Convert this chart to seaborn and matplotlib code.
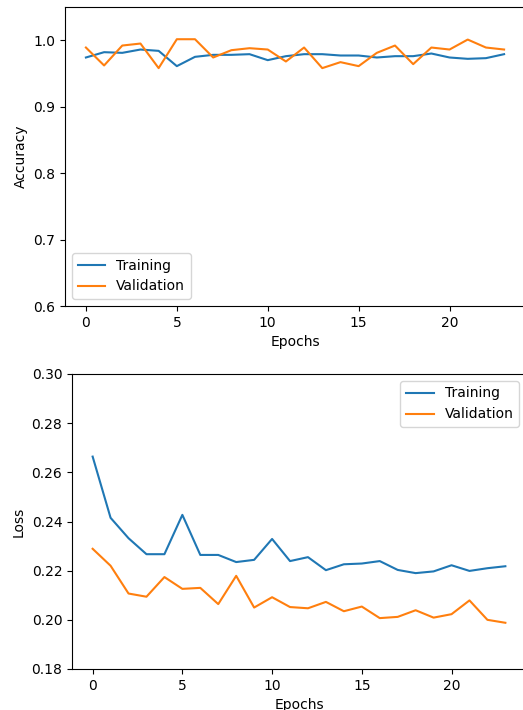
import numpy as np
import pandas as pd
import matplotlib
matplotlib.use("Agg")
import matplotlib.pyplot as plt
import seaborn as sns

epochs = list(range(24))
train_acc = [0.974, 0.982, 0.981, 0.986, 0.984, 0.961, 0.975, 0.978, 0.978, 0.979,
             0.970, 0.976, 0.979, 0.979, 0.977, 0.977, 0.974, 0.976, 0.976, 0.980,
             0.974, 0.972, 0.973, 0.979]
val_acc = [0.989, 0.962, 0.992, 0.995, 0.958, 1.0015, 1.0015, 0.974, 0.985, 0.988,
           0.986, 0.968, 0.989, 0.958, 0.967, 0.961, 0.981, 0.992, 0.964, 0.989,
           0.986, 1.001, 0.989, 0.986]
train_loss = [0.2664, 0.2415, 0.2332, 0.2267, 0.2267, 0.2427, 0.2264, 0.2264, 0.2235, 0.2244,
              0.2329, 0.2239, 0.2255, 0.2202, 0.2226, 0.2229, 0.2239, 0.2203, 0.2190, 0.2197,
              0.2222, 0.2199, 0.2210, 0.2218]
val_loss = [0.2289, 0.2220, 0.2107, 0.2094, 0.2174, 0.2126, 0.2130, 0.2064, 0.2179, 0.2050,
            0.2092, 0.2052, 0.2047, 0.2073, 0.2035, 0.2054, 0.2007, 0.2012, 0.2039, 0.2009,
            0.2023, 0.2079, 0.2000, 0.1988]
series_names = ["Training", "Validation"]
colors = ["#1f77b4", "#ff7f0e"]

acc_df = pd.DataFrame({"Epochs": epochs * 2,
                       "value": train_acc + val_acc,
                       "set": [series_names[0]] * 24 + [series_names[1]] * 24})
loss_df = pd.DataFrame({"Epochs": epochs * 2,
                        "value": train_loss + val_loss,
                        "set": [series_names[0]] * 24 + [series_names[1]] * 24})

W, H = 523, 710
dpi = 100
fig = plt.figure(figsize=(W / dpi, H / dpi), dpi=dpi)
plt.rcParams['font.family'] = ['DejaVu Sans']

def px_axes(left, top, right, bottom):
    return fig.add_axes([left / W, 1 - bottom / H, (right - left) / W, (bottom - top) / H])

ax1 = px_axes(65, 7, 525, 306)
sns.lineplot(data=acc_df, x="Epochs", y="value", hue="set", palette=colors, ax=ax1, linewidth=1.5)
ax1.set_ylim(0.6, 1.05)
ax1.set_xlim(-1.15, 24.15)
ax1.set_xticks([0, 5, 10, 15, 20])
ax1.set_ylabel("Accuracy")
ax1.set_xlabel("Epochs")
ax1.legend(loc="lower left")

ax2 = px_axes(72, 374, 526, 669)
sns.lineplot(data=loss_df, x="Epochs", y="value", hue="set", palette=colors, ax=ax2, linewidth=1.5)
ax2.set_ylim(0.18, 0.30)
ax2.set_xlim(-1.15, 24.15)
ax2.set_xticks([0, 5, 10, 15, 20])
ax2.set_ylabel("Loss")
ax2.set_xlabel("Epochs")
ax2.legend(loc="upper right")

fig.savefig("out.png", dpi=dpi)
